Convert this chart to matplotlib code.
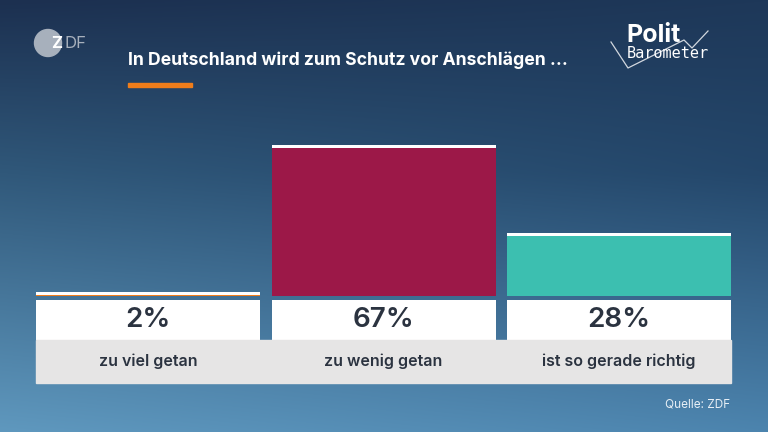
import numpy as np
import matplotlib.pyplot as plt
from matplotlib.patches import Circle, Rectangle
from matplotlib.colors import to_rgb

plt.rcParams['font.family'] = ['Inter', 'DejaVu Sans']

# data
categories = ['zu viel getan', 'zu wenig getan', 'ist so gerade richtig']
values = [2, 67, 28]
bar_colors = ['#F07D1A', '#9C1848', '#3CBFB0']
title = 'In Deutschland wird zum Schutz vor Anschlägen ...'
source = 'Quelle: ZDF'

W, H = 768, 432
fig = plt.figure(figsize=(W / 100, H / 100), dpi=100)

# background gradient (darker top/right, lighter bottom-left)
bg = fig.add_axes([0, 0, 1, 1])
yy, xx = np.mgrid[0:1:200j, 0:1:300j]
stops_y = [0.0, 0.4, 1.0]
left = [to_rgb('#1C3050'), to_rgb('#30587A'), to_rgb('#5F98BE')]
right = [to_rgb('#1E3859'), to_rgb('#24476B'), to_rgb('#4C84AE')]
img = np.zeros(yy.shape + (3,))
for ch in range(3):
    lc = np.interp(yy, stops_y, [c[ch] for c in left])
    rc = np.interp(yy, stops_y, [c[ch] for c in right])
    img[..., ch] = lc * (1 - xx) + rc * xx
bg.imshow(np.clip(img, 0, 1), extent=[0, W, H, 0], aspect='auto', interpolation='bilinear')
bg.set_xlim(0, W)
bg.set_ylim(H, 0)
bg.axis('off')

# header
bg.add_patch(Circle((48, 43), 13.5, color='#A7B0BC'))
bg.text(51, 44, 'Z', color='white', fontsize=12, fontweight='bold', ha='left', va='center')
bg.text(64, 44, 'DF', color='#A7B0BC', fontsize=12, ha='left', va='center')
bg.text(128, 60, title, color='white', fontsize=12.7, fontweight='bold', ha='left', va='center')
bg.add_patch(Rectangle((128, 83), 64, 4, color='#F07D1A'))
bg.plot([611, 628, 684, 692, 708], [42, 68, 40, 48, 31], color='white', lw=0.9, alpha=0.8)
bg.text(626, 36, 'Polit', color='white', fontsize=18, fontweight='bold', ha='left', va='center')
bg.text(627, 54, 'Barometer', color='white', fontsize=11, ha='left', va='center', family='DejaVu Sans Mono')
bg.text(730, 404, source, color='#E6EEF5', fontsize=8.5, ha='right', va='center')

# bars: baseline at y=296px, 2.25 px per percent
px = 2.25
step = 235.5
ax = fig.add_axes([(148 - step / 2) / W, (H - 296) / H, 3 * step / W, 100 * px / H])
ax.set_xlim(-0.5, 2.5)
ax.set_ylim(0, 100)
ax.axis('off')

x = np.arange(len(values))
bw = 224 / step
cap = 3.2 / px
ax.bar(x, values, width=bw, color=bar_colors)
ax.bar(x, cap, bottom=np.array(values) - cap, width=bw, color='white')

# value boxes and label band
ax.bar(x, 40 / px, bottom=-44 / px, width=bw, color='white', clip_on=False)
band_l = -0.5 + (36 - (148 - step / 2)) / step
band_r = -0.5 + (731 - (148 - step / 2)) / step
ax.add_patch(Rectangle((band_l, -87 / px), band_r - band_l, 43 / px, color='#E6E5E5', clip_on=False))
for xi, v, c in zip(x, values, categories):
    ax.text(xi, -24 / px, f'{v}%', ha='center', va='center', fontsize=20, fontweight='semibold', color='#2B3340')
    ax.text(xi, -65 / px, c, ha='center', va='center', fontsize=11.5, fontweight='semibold', color='#2B3340')

fig.savefig('out.png', dpi=100)
